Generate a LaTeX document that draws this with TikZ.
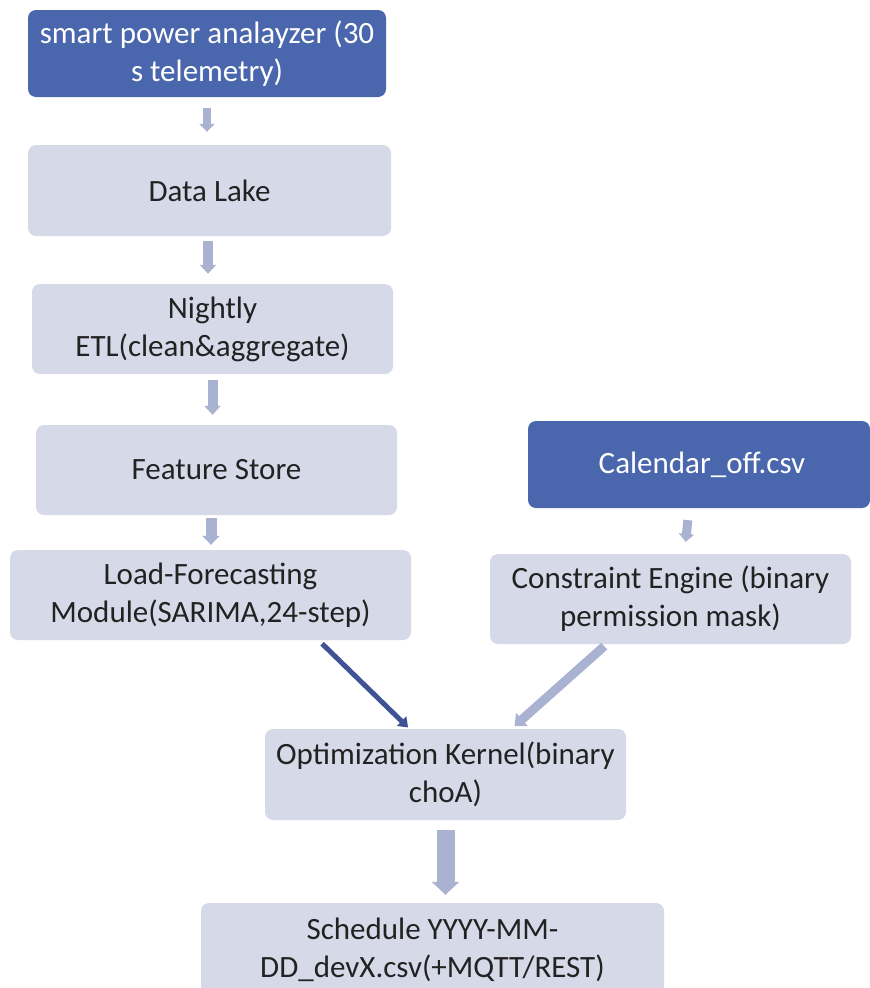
\documentclass[tikz,border=0pt]{standalone}
\usepackage{fontspec}
\setmainfont{Carlito}
\usetikzlibrary{arrows.meta}

\definecolor{srcblue}{HTML}{4A66AC}
\definecolor{stepfill}{HTML}{D6D9E8}
\definecolor{flowgrey}{HTML}{A9B3D1}
\definecolor{flowdark}{HTML}{3E5294}
\definecolor{inktext}{HTML}{222222}

\tikzset{
  box/.style={rounded corners=8pt, align=center, inner sep=0pt,
    font=\fontsize{31}{38}\selectfont},
  srcbox/.style={box, fill=srcblue, text=white},
  stepbox/.style={box, fill=stepfill, text=inktext},
  flow/.style={draw=flowgrey, line cap=butt},
}

\begin{document}
\begin{tikzpicture}[x=1pt, y=-1pt]
\useasboundingbox (0,0) rectangle (870,988);
\clip (0,0) rectangle (870,988);

% left column
\node[srcbox, minimum width=358pt, minimum height=87pt] (b1) at (207,53.5)
  {smart power analayzer (30\\s telemetry)};
\node[stepbox, minimum width=363pt, minimum height=91pt] (b2) at (209.5,190.5)
  {Data Lake};
\node[stepbox, minimum width=361pt, minimum height=90pt] (b3) at (212.5,329)
  {Nightly\\ETL(clean\&aggregate)};
\node[stepbox, minimum width=361pt, minimum height=90pt] (b4) at (216.5,470)
  {Feature Store};
\node[stepbox, minimum width=401pt, minimum height=90pt] (b5) at (210.5,595)
  {Load-Forecasting\\Module(SARIMA,24-step)};

% right column
\node[srcbox, minimum width=342pt, minimum height=87pt] (b6) at (699,464.5)
  {\hspace*{6pt}Calendar\_off.csv};
\node[stepbox, minimum width=361pt, minimum height=90pt] (b7) at (670.5,599)
  {Constraint Engine (binary\\permission mask)};

% merge and output
\node[stepbox, minimum width=361pt, minimum height=91pt] (b8) at (445.5,774.5)
  {Optimization Kernel(binary\\choA)};
\node[stepbox, minimum width=463pt, minimum height=94pt] (b9) at (432.5,950)
  {Schedule YYYY-MM-\\DD\_devX.csv(+MQTT/REST)};

% block arrows down the left column
\draw[flow, line width=8pt, -{Triangle[width=15pt,length=8pt]},
  shorten <=11pt, shorten >=13pt] (b1.south) -- (b1.south |- b2.north);
\draw[flow, line width=10pt, -{Triangle[width=16pt,length=9pt]},
  shorten <=5pt, shorten >=10pt] ([xshift=-1.5pt]b2.south) -- ([xshift=-1.5pt]b2.south |- b3.north);
\draw[flow, line width=10pt, -{Triangle[width=16pt,length=9pt]},
  shorten <=6pt, shorten >=10pt] (b3.south) -- (b3.south |- b4.north);
\draw[flow, line width=11pt, -{Triangle[width=17pt,length=9pt]},
  shorten <=3pt, shorten >=5pt] ([xshift=-5.5pt]b4.south) -- ([xshift=-5.5pt]b4.south |- b5.north);

% calendar into constraint engine
\draw[flow, line width=9pt, -{Triangle[width=15pt,length=8pt]},
  shorten <=12pt, shorten >=12pt] ([xshift=-10pt]b6.south) -- ([xshift=14pt]b7.north);

% both inputs into the optimization kernel
\draw[draw=flowdark, line width=5pt, line cap=butt, -{Triangle[width=13pt,length=9pt]},
  shorten <=5pt, shorten >=2pt] ([xshift=108pt]b5.south) -- ([xshift=-36pt]b8.north);
\draw[flow, line width=9pt, -{Triangle[width=17pt,length=10pt]},
  shorten <=3pt, shorten >=4pt] ([xshift=-64pt]b7.south) -- ([xshift=66pt]b8.north);

% kernel to schedule
\draw[flow, line width=18pt, -{Triangle[width=27pt,length=13pt]},
  shorten <=10pt, shorten >=8pt] (b8.south) -- (b8.south |- b9.north);
\end{tikzpicture}
\end{document}
